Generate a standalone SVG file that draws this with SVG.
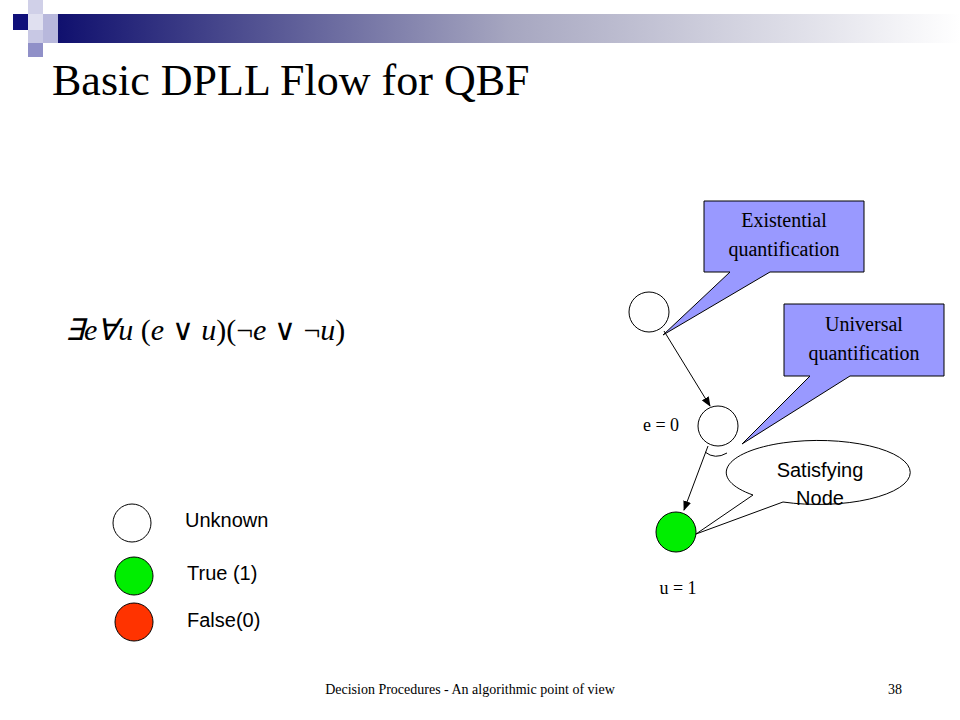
<svg xmlns="http://www.w3.org/2000/svg" width="960" height="720" viewBox="0 0 960 720">
<defs>
<linearGradient id="bar" x1="0" x2="1" y1="0" y2="0"><stop offset="0" stop-color="#10106e"/><stop offset="0.5" stop-color="#a6a6c0"/><stop offset="1" stop-color="#ffffff"/></linearGradient>
<marker id="ar" markerWidth="10" markerHeight="8" refX="9" refY="4" orient="auto" markerUnits="userSpaceOnUse"><path d="M0,0 L10,4 L0,8 z" fill="#000"/></marker>
<style>
.serif{font-family:"Liberation Serif",serif}
.sans{font-family:"Liberation Sans",Arial,sans-serif}
.node{stroke:#000;stroke-width:1}
.call{fill:#9999ff;stroke:#000;stroke-width:1}
</style>
</defs>
<rect width="960" height="720" fill="#fff"/>
<g id="header">
<rect x="58" y="14" width="902" height="29" fill="url(#bar)"/>
<rect x="13" y="14" width="15" height="16" fill="#10107a"/>
<rect x="28" y="0" width="15" height="14" fill="#d0d0e8"/>
<rect x="28" y="14" width="15" height="16" fill="#e0e0f0"/>
<rect x="43" y="14" width="15" height="29" fill="#b8b8dc"/>
<rect x="28" y="30" width="15" height="13" fill="#c8c8e4"/>
<rect x="28" y="43" width="15" height="14" fill="#9090c8"/>
</g>
<text x="52" y="95" class="serif" font-size="44">Basic DPLL Flow for QBF</text>
<text x="65" y="340" class="serif" font-size="30" font-style="italic">∃e∀u <tspan font-style="normal">(</tspan>e <tspan font-style="normal">∨</tspan> u<tspan font-style="normal">)(¬</tspan>e <tspan font-style="normal">∨ ¬</tspan>u<tspan font-style="normal">)</tspan></text>
<g id="connectors" stroke="#000" stroke-width="1" fill="none">
<line x1="664" y1="331" x2="710" y2="406" marker-end="url(#ar)"/>
<line x1="708" y1="446" x2="684" y2="510" marker-end="url(#ar)"/>
<path d="M705,452 Q715,460 727,453"/>
</g>
<g id="n1"><circle cx="649" cy="312" r="20" fill="#fff" class="node"/></g>
<g id="n2"><circle cx="718" cy="426" r="20" fill="#fff" class="node"/><text x="661" y="431" class="serif" font-size="18" text-anchor="middle">e = 0</text></g>
<g id="n3"><circle cx="676" cy="532" r="20" fill="#00ee00" class="node"/><text x="678" y="594" class="serif" font-size="18" text-anchor="middle">u = 1</text></g>
<g id="exist"><path class="call" d="M704,201 H864 V272 H770 L663,335 L730,272 H704 Z"/><text x="784" y="227" class="serif" font-size="20" text-anchor="middle">Existential</text><text x="784" y="256" class="serif" font-size="20" text-anchor="middle">quantification</text></g>
<g id="univ"><path class="call" d="M784,304 H944 V376 H850 L742,444 L810,376 H784 Z"/><text x="864" y="331" class="serif" font-size="20" text-anchor="middle">Universal</text><text x="864" y="360" class="serif" font-size="20" text-anchor="middle">quantification</text></g>
<g id="sat"><path d="M753,495 A92,32 0 1 1 783,502 L696,534 Z" fill="#fff" stroke="#000" stroke-width="1"/><text x="820" y="477" class="sans" font-size="20" text-anchor="middle">Satisfying</text><text x="820" y="505" class="sans" font-size="20" text-anchor="middle">Node</text></g>
<g id="legend">
<circle cx="132" cy="523" r="19" fill="#fff" class="node"/><text x="185" y="527" class="sans" font-size="20">Unknown</text>
<circle cx="134" cy="576" r="19" fill="#00ee00" class="node"/><text x="187" y="580" class="sans" font-size="20">True (1)</text>
<circle cx="134" cy="622" r="19" fill="#ff3300" class="node"/><text x="187" y="627" class="sans" font-size="20">False(0)</text>
</g>
<text x="470" y="694" class="serif" font-size="14" text-anchor="middle">Decision Procedures - An algorithmic point of view</text>
<text x="895" y="694" class="serif" font-size="14" text-anchor="middle">38</text>
</svg>
